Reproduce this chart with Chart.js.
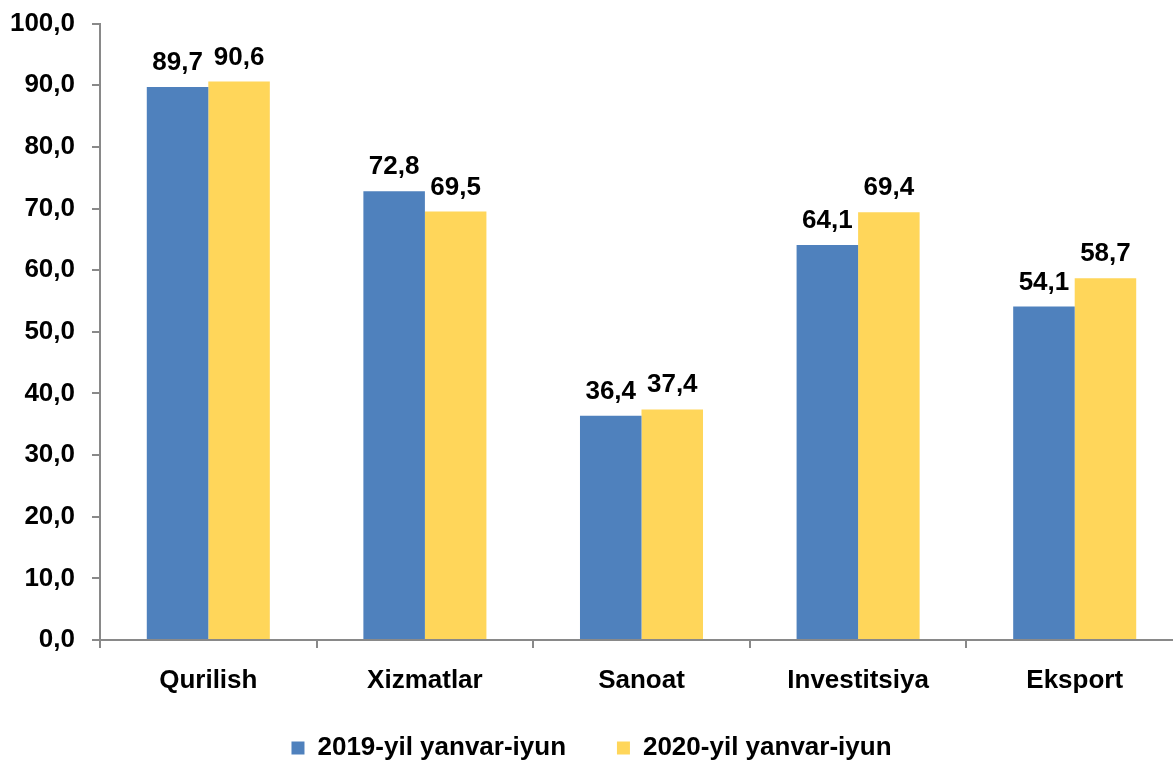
<!DOCTYPE html>
<html>
<head>
<meta charset="utf-8">
<script src="https://cdn.jsdelivr.net/npm/chart.js@4.4.1/dist/chart.umd.min.js"></script>
<style>
  html, body { margin: 0; padding: 0; background: #fff; overflow: hidden; }
  #wrap { width: 1190px; height: 780px; position: absolute; left: 0; top: -9px; }
</style>
</head>
<body>
<div id="wrap"><canvas id="c"></canvas></div>
<script>
const categories = ['Qurilish', 'Xizmatlar', 'Sanoat', 'Investitsiya', 'Eksport'];
const series2019 = [89.7, 72.8, 36.4, 64.1, 54.1];
const series2020 = [90.6, 69.5, 37.4, 69.4, 58.7];
const seriesNames = ['2019-yil yanvar-iyun', '2020-yil yanvar-iyun'];
const yTicks = [0, 10, 20, 30, 40, 50, 60, 70, 80, 90, 100];

const FONT = "Arial, 'Liberation Sans', sans-serif";
const fmt = v => Number(v).toFixed(1).replace('.', ',');

const dataLabels = {
  id: 'dataLabels',
  afterDatasetsDraw(chart) {
    const ctx = chart.ctx;
    ctx.save();
    ctx.font = 'bold 26px ' + FONT;
    ctx.fillStyle = '#000';
    ctx.textAlign = 'center';
    ctx.textBaseline = 'alphabetic';
    chart.data.datasets.forEach((ds, i) => {
      chart.getDatasetMeta(i).data.forEach((bar, j) => {
        ctx.fillText(fmt(ds.data[j]), bar.x, bar.y - 17);
      });
    });
    ctx.restore();
  }
};

new Chart(document.getElementById('c'), {
  type: 'bar',
  data: {
    labels: categories,
    datasets: [
      { label: seriesNames[0], data: series2019, backgroundColor: '#4F81BD', borderWidth: 0 },
      { label: seriesNames[1], data: series2020, backgroundColor: '#FFD65A', borderWidth: 0 }
    ]
  },
  options: {
    responsive: true,
    maintainAspectRatio: false,
    animation: false,
    events: [],
    layout: { padding: { top: 17, left: 0, right: 7, bottom: 0 } },
    datasets: { bar: { categoryPercentage: 0.568, barPercentage: 1.0 } },
    plugins: {
      tooltip: { enabled: false },
      legend: {
        position: 'bottom',
        labels: {
          boxWidth: 13, boxHeight: 13, padding: 22,
          color: '#000',
          font: { family: FONT, size: 26, weight: 'bold' },
          generateLabels(chart) {
            const items = Chart.defaults.plugins.legend.labels.generateLabels(chart);
            items.forEach((it, i) => { if (i < items.length - 1) it.text = it.text + '    '; });
            return items;
          }
        }
      }
    },
    scales: {
      x: {
        grid: { display: true, drawOnChartArea: false, drawTicks: true, tickLength: 8, color: '#898989', lineWidth: 2, offset: true },
        border: { display: true, color: '#898989', width: 2 },
        ticks: { color: '#000', padding: 17, font: { family: FONT, size: 26, weight: 'bold' } },
        afterFit(scale) { scale.height = 73; }
      },
      y: {
        min: 0, max: 100,
        afterBuildTicks(scale) { scale.ticks = yTicks.map(v => ({ value: v })); },
        grid: { display: true, drawOnChartArea: false, drawTicks: true, tickLength: 8, color: '#898989', lineWidth: 2 },
        border: { display: true, color: '#898989', width: 2 },
        ticks: { color: '#000', padding: 17, font: { family: FONT, size: 26, weight: 'bold' }, callback: v => fmt(v) },
        afterFit(scale) { scale.width = 100; }
      }
    }
  },
  plugins: [dataLabels]
});
</script>
</body>
</html>
